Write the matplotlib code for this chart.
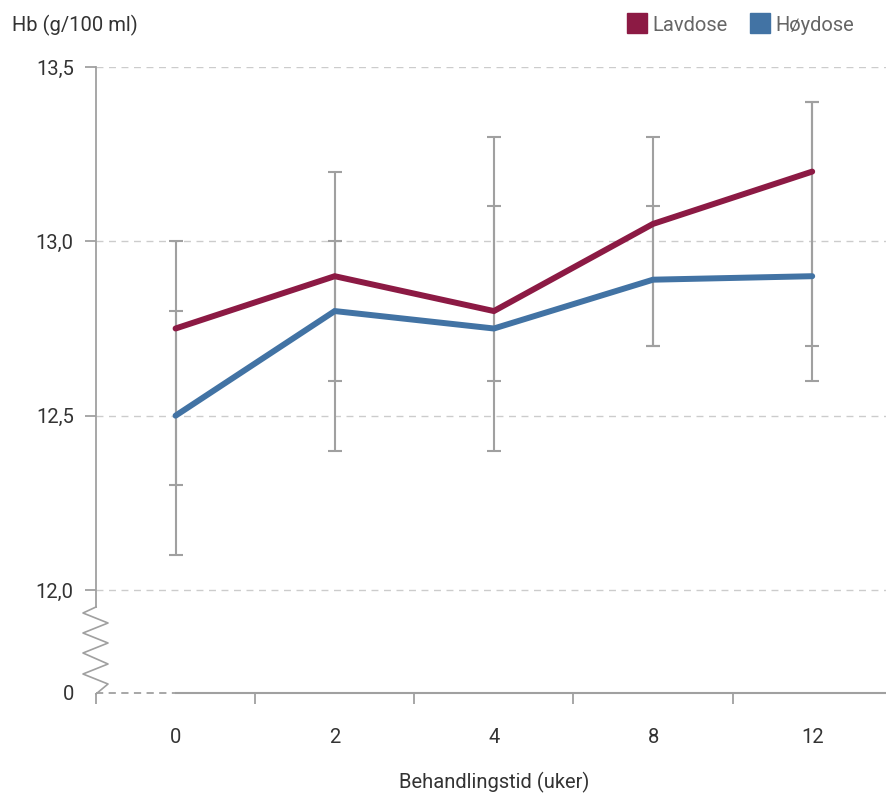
import matplotlib
matplotlib.use("Agg")
import matplotlib.pyplot as plt
from matplotlib.lines import Line2D
from matplotlib.patches import Rectangle

# Treatment time (weeks) and haemoglobin values
weeks = ["0", "2", "4", "8", "12"]
lav_mean = [12.75, 12.9, 12.8, 13.05, 13.2]
hoy_mean = [12.5, 12.8, 12.75, 12.89, 12.9]
lav_low = [12.3, 12.6, 12.6, 12.7, 12.7]
lav_high = [13.0, 13.2, 13.3, 13.3, 13.4]
hoy_low = [12.1, 12.4, 12.4, 12.7, 12.6]
hoy_high = [12.8, 13.0, 13.1, 13.1, 13.4]
y_ticks = [12.0, 12.5, 13.0, 13.5]
series_names = ["Lavdose", "Høydose"]

LAV_COLOR = "#8c1a44"
HOY_COLOR = "#4273a4"
GREY = "#a0a0a0"
TEXT = "#333333"
FONT = "Roboto"
FS = 14.5

W, H = 887, 794
fig = plt.figure(figsize=(W / 100, H / 100), dpi=100)
plt.rcParams["font.family"] = [FONT, "DejaVu Sans"]


def fx(px):
    return px / W


def fy(py):
    return 1 - py / H


# Axes: top at 13.5, bottom at the broken zero line
ax = fig.add_axes([fx(96), fy(693), 1 - fx(96), fy(67) - fy(693)])
break_pos = 12.0 - 1.5 * (693 - 590) / 523
ax.set_ylim(break_pos, 13.5)
ax.set_xlim(-0.5, 4.47)

x = list(range(len(weeks)))

# Grid lines
for v in y_ticks:
    ax.axhline(v, color="#cccccc", lw=1.0, ls=(0, (5, 4)), zorder=0)

# Error bars
for mean, lo, hi in ((lav_mean, lav_low, lav_high), (hoy_mean, hoy_low, hoy_high)):
    yerr = [[m - l for m, l in zip(mean, lo)], [h - m for m, h in zip(mean, hi)]]
    ax.errorbar(x, mean, yerr=yerr, fmt="none", ecolor=GREY, elinewidth=1.5,
                capsize=4.7, capthick=1.5, zorder=2)

# Series lines
ax.plot(x, lav_mean, color=LAV_COLOR, lw=4.3, solid_capstyle="round",
        solid_joinstyle="miter", zorder=3)
ax.plot(x, hoy_mean, color=HOY_COLOR, lw=4.3, solid_capstyle="round",
        solid_joinstyle="miter", zorder=3)

# Spines
for s in ("top", "right", "bottom"):
    ax.spines[s].set_visible(False)
ax.spines["left"].set_color(GREY)
ax.spines["left"].set_linewidth(1.3)
ax.spines["left"].set_bounds(12.0 - 1.5 * (607 - 590) / 523, 13.5)

# Baseline: dashed until first category, solid afterwards
ax.plot([-0.5, 0], [break_pos, break_pos], color=GREY, lw=1.3, ls=(0, (4, 3)),
        clip_on=False, zorder=1)
ax.plot([0, 4.47], [break_pos, break_pos], color=GREY, lw=1.5, clip_on=False, zorder=1)

# Y ticks
ax.set_yticks([break_pos] + y_ticks)
ax.set_yticklabels(["0"] + [f"{v:.1f}".replace(".", ",") for v in y_ticks])
ax.tick_params(axis="y", length=8, width=1.3, color=GREY, pad=8,
               labelsize=FS, labelcolor=TEXT)
ax.yaxis.get_major_ticks()[0].tick1line.set_visible(False)

# X ticks: marks between categories, labels at category centres
ax.set_xticks([-0.5, 0.5, 1.5, 2.5, 3.5])
ax.set_xticklabels([])
ax.set_xticks(x, minor=True)
ax.set_xticklabels(weeks, minor=True)
ax.tick_params(axis="x", which="major", length=8, width=1.3, color=GREY)
ax.tick_params(axis="x", which="minor", length=0, pad=25, labelsize=FS,
               labelcolor=TEXT)

# Axis break zigzag
zx = [96, 83, 108, 83, 108, 83, 108, 83, 108, 96]
zy = [607, 613, 623, 633, 643, 653, 664, 674, 684, 694]
fig.add_artist(Line2D([fx(v) for v in zx], [fy(v) for v in zy], color=GREY, lw=1.2))

# Titles
fig.text(fx(12), fy(31), "Hb (g/100 ml)", fontsize=FS, color=TEXT, va="baseline",
         ha="left")
fig.text(fx(494), fy(788), "Behandlingstid (uker)", fontsize=FS, color=TEXT,
         va="baseline", ha="center")

# Legend
for name, color, sq_x in ((series_names[0], LAV_COLOR, 627), (series_names[1], HOY_COLOR, 750)):
    fig.add_artist(Rectangle((fx(sq_x), fy(33)), fx(20), fy(13) - fy(33),
                             transform=fig.transFigure, color=color))
    fig.text(fx(sq_x + 25), fy(31), name, fontsize=FS, color="#666666",
             va="baseline", ha="left")

fig.savefig("out.png", dpi=100)
